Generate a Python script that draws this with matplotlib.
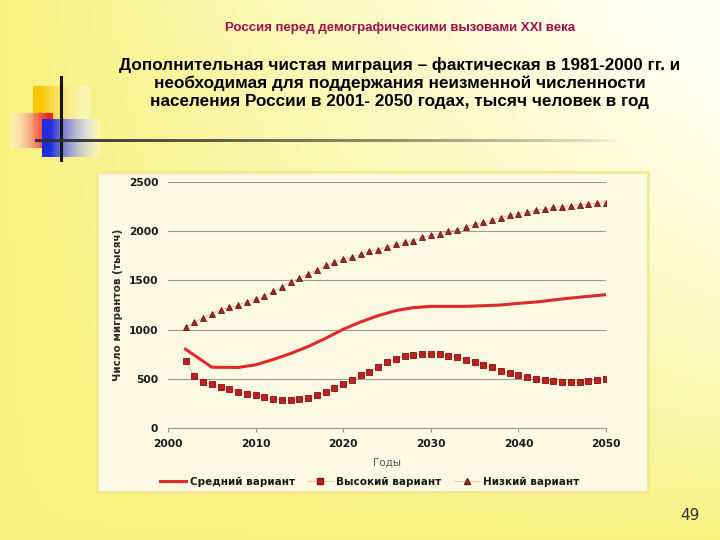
import matplotlib
matplotlib.use('Agg')
import matplotlib.pyplot as plt
import numpy as np
from matplotlib.patches import Rectangle
from matplotlib.lines import Line2D

# ---- data (тысяч человек в год) ----
years = list(range(2002, 2051))

low_variant = [1024, 1074, 1122, 1162, 1203, 1226, 1250, 1284, 1307, 1341,
               1389, 1436, 1483, 1524, 1564, 1608, 1652, 1682, 1713, 1736,
               1770, 1794, 1814, 1841, 1865, 1892, 1905, 1939, 1959, 1976,
               1997, 2017, 2044, 2071, 2091, 2115, 2139, 2162, 2176, 2193,
               2213, 2226, 2243, 2250, 2260, 2267, 2274, 2284, 2291]

high_variant = [679, 524, 466, 446, 416, 395, 368, 345, 331, 314,
                294, 284, 284, 294, 304, 331, 365, 405, 446, 486,
                537, 574, 625, 666, 703, 730, 743, 750, 753, 750,
                733, 720, 693, 666, 639, 618, 584, 557, 537, 520,
                500, 486, 480, 470, 466, 470, 476, 486, 497]

mid_years = [2002, 2005, 2008, 2010, 2012, 2014, 2016, 2018, 2020, 2022, 2024,
             2026, 2028, 2030, 2032, 2034, 2036, 2038, 2040, 2042, 2044, 2046,
             2048, 2050]
mid_variant = [801, 618, 615, 642, 696, 757, 828, 912, 1003, 1078, 1142,
               1193, 1223, 1236, 1236, 1236, 1243, 1250, 1267, 1280, 1301, 1321,
               1338, 1355]

x_ticks = [2000, 2010, 2020, 2030, 2040, 2050]
y_ticks = [0, 500, 1000, 1500, 2000, 2500]

series_names = ['Средний вариант', 'Высокий вариант', 'Низкий вариант']

slide_title = 'Россия перед демографическими вызовами XXI века'
main_title = ('Дополнительная чистая миграция – фактическая в 1981-2000 гг. и\n'
              'необходимая для поддержания неизменной численности\n'
              'населения России в 2001- 2050 годах, тысяч человек в год')

W, H = 720, 540
fig = plt.figure(figsize=(W / 100, H / 100), dpi=100)

# background axes in pixel coordinates
bg = fig.add_axes([0, 0, 1, 1])
bg.set_xlim(0, W)
bg.set_ylim(H, 0)
bg.axis('off')

# slide gradient: yellow on the left and bottom, white in the upper right
gx = np.linspace(0, 1, 200)[None, :]
gy = np.linspace(0, 1, 150)[:, None]
t = (1 - gx * (1 - gy) ** 0.8) ** 1.3
yellow = np.array([248, 242, 125]) / 255
white = np.array([255, 255, 248]) / 255
grad = white + t[..., None] * (yellow - white)
bg.imshow(grad, extent=[0, W, H, 0], aspect='auto', zorder=0)


def fade_square(x0, x1, y0, y1, rgb, direction):
    n = 64
    a = np.linspace(0, 1, n)
    if direction == 'lr':      # solid left, fading right
        alpha = np.tile(1 - a, (n, 1))
    elif direction == 'rl':
        alpha = np.tile(a, (n, 1))
    alpha = np.clip(alpha * 1.15, 0, 1)
    img = np.ones((n, n, 4))
    img[..., :3] = np.array(rgb)[None, None, :] * alpha[..., None] + (1 - alpha[..., None])
    img[..., 3] = 0.35 + 0.65 * alpha
    bg.imshow(img, extent=[x0, x1, y1, y0], aspect='auto', zorder=1)


fade_square(33, 90, 86, 140, (0.98, 0.78, 0.0), 'lr')
fade_square(10, 53, 113, 148, (0.95, 0.15, 0.15), 'rl')
fade_square(42, 100, 119, 157, (0.12, 0.18, 0.88), 'lr')

# decorative lines
bg.plot([61, 61], [77, 160], color='#151515', lw=2.2, zorder=3)
strip = np.zeros((1, 300, 4))
strip[..., :3] = 0.2
strip[0, :, 3] = np.linspace(1, 0, 300) ** 0.7
bg.imshow(strip, extent=[35, 620, 142.5, 139.5], aspect='auto', zorder=3)

# titles
bg.text(400, 28, slide_title, ha='center', va='center', fontsize=9.5,
        fontweight='bold', color='#a0104a',
        family=['Liberation Sans Narrow', 'Liberation Sans', 'DejaVu Sans'])
bg.text(400, 83, main_title, ha='center', va='center', fontsize=12.3,
        fontweight='bold', color='black', linespacing=1.22,
        family=['Liberation Sans Narrow', 'Liberation Sans', 'DejaVu Sans'])
bg.text(690, 515, '49', ha='center', va='center', fontsize=11, color='#303030')

# chart box
bg.add_patch(Rectangle((97, 172), 551, 320, facecolor='#fdf9e2',
                       edgecolor='#f2ea90', lw=2, zorder=2))

# ---- the chart itself ----
ax = fig.add_axes([168 / W, 1 - 428 / H, 438 / W, 246 / H])
ax.patch.set_alpha(0)
ax.set_xlim(2000, 2050)
ax.set_ylim(0, 2500)

ax.plot(mid_years, mid_variant, color='#e02a2a', lw=2.2, zorder=3)
ax.plot(years, high_variant, color='#e8b090', lw=0.6, marker='s', ms=4.5,
        mfc='#c02020', mec='#801010', mew=0.6, zorder=4)
ax.plot(years, low_variant, color='#e8b090', lw=0.6, marker='^', ms=4.5,
        mfc='#9a2a2a', mec='#701515', mew=0.6, zorder=4)

ax.set_yticks(y_ticks)
ax.set_xticks(x_ticks)
ax.grid(axis='y', color='#9a9a9a', lw=0.8)
ax.set_axisbelow(True)
for s in ['top', 'right', 'left']:
    ax.spines[s].set_visible(False)
ax.spines['bottom'].set_color('#9a9a9a')
ax.tick_params(axis='y', length=0, pad=7)
ax.tick_params(axis='x', length=3, color='#9a9a9a', pad=5)
for lab in ax.get_xticklabels() + ax.get_yticklabels():
    lab.set_fontweight('bold')
    lab.set_fontsize(7.7)
    lab.set_color('#1a1a1a')

ax.set_xlabel('Годы', fontsize=7.5, color='#555555', labelpad=6)
ax.set_ylabel('Число мигрантов (тысяч)', fontsize=7.5, fontweight='bold',
              color='#2a2a2a', labelpad=4)

handles = [Line2D([], [], color='#e02a2a', lw=2.2),
           Line2D([], [], color='#e8d0a0', lw=0.8, marker='s', ms=4,
                  mfc='#c02020', mec='#801010'),
           Line2D([], [], color='#e8d0a0', lw=0.8, marker='^', ms=4,
                  mfc='#9a2a2a', mec='#701515')]
leg = fig.legend(handles, series_names, loc='center', ncol=3,
                 bbox_to_anchor=(370 / W, 1 - 482 / H), frameon=False,
                 handlelength=2.5, columnspacing=1.2, handletextpad=0.3,
                 prop={'weight': 'bold', 'size': 7.5})
for txt in leg.get_texts():
    txt.set_color('#1a1a1a')

fig.savefig('out.png', dpi=100)
